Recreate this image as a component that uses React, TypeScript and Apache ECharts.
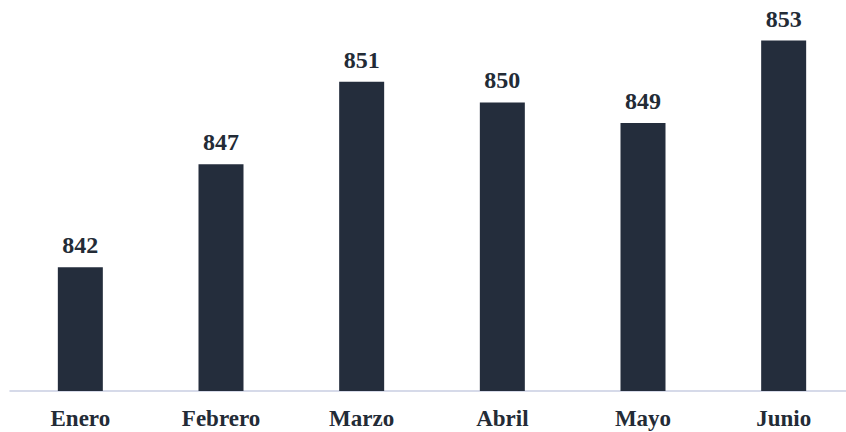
import React, { useEffect, useRef } from "react";
import * as echarts from "echarts";

const categories = ["Enero", "Febrero", "Marzo", "Abril", "Mayo", "Junio"];
const values = [842, 847, 851, 850, 849, 853];
const yMin = 836;
const yMax = 854;

export default function App() {
  const ref = useRef<HTMLDivElement>(null);
  useEffect(() => {
    if (!ref.current) return;
    const chart = echarts.init(ref.current, null, { renderer: "svg" });
    chart.setOption({
      animation: false,
      backgroundColor: "#ffffff",
      grid: { left: 10, right: 0, top: 20, bottom: 41, containLabel: false, outerBoundsMode: "none" },
      xAxis: {
        type: "category",
        data: categories,
        axisLine: { show: true, lineStyle: { color: "#c9cee2", width: 1.5 } },
        axisTick: { show: false },
        axisLabel: {
          margin: 16,
          color: "#232b36",
          fontFamily: "Liberation Serif",
          fontWeight: "bold",
          fontSize: 23,
        },
      },
      yAxis: {
        type: "value",
        min: yMin,
        max: yMax,
        show: false,
        splitLine: { show: false },
      },
      series: [
        {
          type: "bar",
          data: values,
          barWidth: 45,
          itemStyle: { color: "#242d3c" },
          label: {
            show: true,
            position: "top",
            distance: 10,
            color: "#232b36",
            fontFamily: "Liberation Serif",
            fontWeight: "bold",
            fontSize: 24,
          },
        },
      ],
    });
    return () => chart.dispose();
  }, []);
  return (
    <div style={{ position: "fixed", left: 0, top: 0, width: 846, height: 432, overflow: "hidden", background: "#fff" }}>
      <div ref={ref} style={{ position: "absolute", left: 0, top: 0, width: 854, height: 432 }} />
    </div>
  );
}
